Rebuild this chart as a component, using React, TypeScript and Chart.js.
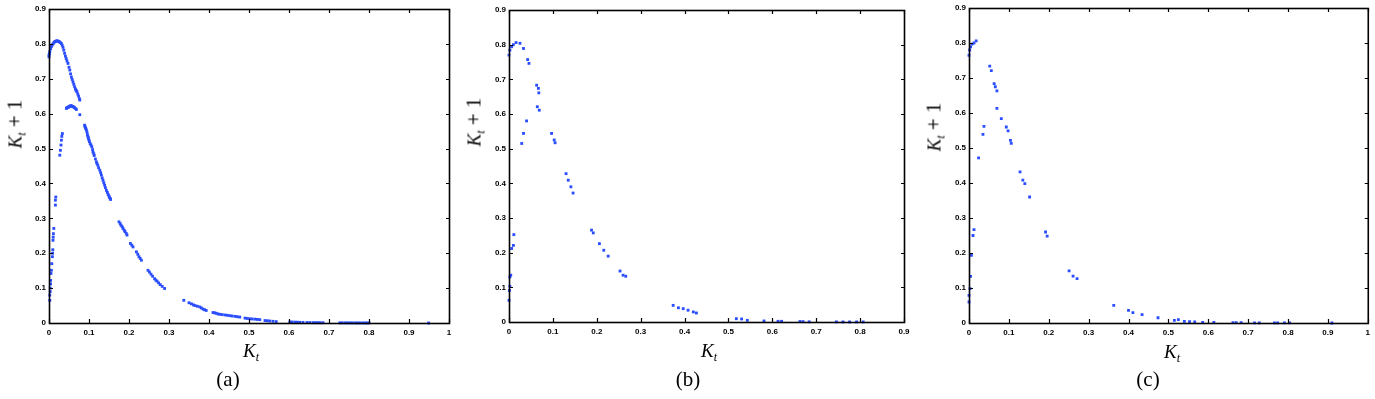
import React, { useEffect, useRef } from 'react';
import { Chart, registerables } from 'chart.js';
Chart.register(...registerables);

// ---------- data ----------
const xTicks10 = [0, 0.1, 0.2, 0.3, 0.4, 0.5, 0.6, 0.7, 0.8, 0.9, 1];
const xTicks09 = [0, 0.1, 0.2, 0.3, 0.4, 0.5, 0.6, 0.7, 0.8, 0.9];
const yTicks = [0, 0.1, 0.2, 0.3, 0.4, 0.5, 0.6, 0.7, 0.8, 0.9];
const captions = ['(a)', '(b)', '(c)'];

const xA = [
  0, 0, 0.001, 0.002, 0.004, 0.006, 0.008, 0.01, 0.012, 0.014, 0.016, 0.018, 0.02, 0.022, 0.024, 0.026, 0.028, 0.031, 0.033, 0.035, 0.037, 0.039, 0.041, 0.043, 0.045, 0.0475, 0.05, 0.052, 0.054, 0.056, 0.058, 0.06, 0.062, 0.064, 0.066, 0.067, 0.069, 0.07, 0.072, 0.074, 0.076, 0.077,
  0.0435, 0.045, 0.047, 0.049, 0.05, 0.052, 0.053, 0.055, 0.056, 0.058, 0.06, 0.062, 0.064, 0.066, 0.0685, 0.077,
  0.089, 0.09, 0.091, 0.092, 0.0935, 0.095, 0.096, 0.097, 0.098, 0.099, 0.1, 0.101, 0.103, 0.105, 0.107, 0.109, 0.11, 0.112, 0.113, 0.116, 0.1185, 0.12, 0.122, 0.124, 0.127, 0.129, 0.131, 0.133, 0.135, 0.137, 0.139, 0.141, 0.1435, 0.146, 0.148, 0.15, 0.151, 0.153, 0.154,
  0.175, 0.178, 0.18, 0.183, 0.185, 0.188, 0.19, 0.193, 0.195, 0.2035, 0.207, 0.21, 0.2185, 0.222, 0.225, 0.228, 0.231, 0.2475, 0.251, 0.255, 0.259, 0.264, 0.267, 0.27, 0.274, 0.278, 0.283, 0.289,
  0.337, 0.35, 0.356, 0.361, 0.365, 0.371, 0.377, 0.381, 0.385, 0.389, 0.393, 0.41, 0.414, 0.418, 0.422, 0.427, 0.433, 0.44, 0.446, 0.452, 0.458, 0.465, 0.471, 0.477, 0.49, 0.496, 0.502, 0.508, 0.515, 0.521, 0.527, 0.54, 0.546, 0.552, 0.56, 0.568,
  0.602, 0.608, 0.615, 0.621, 0.627, 0.635, 0.645, 0.652, 0.66, 0.666, 0.672, 0.678, 0.685, 0.727, 0.733, 0.74, 0.746, 0.752, 0.758, 0.765, 0.771, 0.777, 0.784, 0.79, 0.795, 0.8, 0.949,
  0.002, 0.002, 0.003, 0.003, 0.004, 0.004, 0.005, 0.006, 0.007, 0.0085, 0.009, 0.0095, 0.01, 0.0105, 0.011, 0.012, 0.016, 0.016, 0.017, 0.027, 0.0285, 0.03, 0.031, 0.032, 0.0335,
];
const yA = [
  0.763, 0.768, 0.772, 0.778, 0.786, 0.792, 0.797, 0.8, 0.803, 0.806, 0.807, 0.808, 0.809, 0.808, 0.807, 0.806, 0.804, 0.801, 0.796, 0.79, 0.782, 0.773, 0.765, 0.758, 0.751, 0.744, 0.733, 0.725, 0.714, 0.705, 0.698, 0.691, 0.684, 0.677, 0.671, 0.668, 0.665, 0.663, 0.656, 0.65, 0.643, 0.639,
  0.615, 0.617, 0.618, 0.619, 0.62, 0.621, 0.622, 0.623, 0.622, 0.621, 0.62, 0.619, 0.617, 0.615, 0.612, 0.597,
  0.567, 0.563, 0.56, 0.557, 0.553, 0.547, 0.54, 0.536, 0.532, 0.528, 0.524, 0.52, 0.514, 0.51, 0.505, 0.497, 0.49, 0.485, 0.48, 0.47, 0.462, 0.457, 0.452, 0.445, 0.438, 0.431, 0.424, 0.416, 0.409, 0.402, 0.395, 0.388, 0.38, 0.374, 0.368, 0.364, 0.36, 0.357, 0.354,
  0.29, 0.285, 0.28, 0.276, 0.271, 0.266, 0.262, 0.257, 0.252, 0.228, 0.223, 0.218, 0.204, 0.197, 0.19, 0.185, 0.18, 0.151, 0.146, 0.14, 0.134, 0.127, 0.123, 0.12, 0.115, 0.11, 0.105, 0.099,
  0.065, 0.058, 0.055, 0.052, 0.05, 0.048, 0.046, 0.043, 0.04, 0.038, 0.036, 0.03, 0.029, 0.028, 0.026, 0.025, 0.024, 0.023, 0.022, 0.021, 0.02, 0.019, 0.018, 0.017, 0.014, 0.013, 0.012, 0.0115, 0.011, 0.0103, 0.0096, 0.007, 0.0064, 0.0057, 0.0048, 0.004,
  0.003, 0.0028, 0.0025, 0.0022, 0.002, 0.0018, 0.0015, 0.0012, 0.001, 0.001, 0.001, 0.0009, 0.0008, 0.0005, 0.0005, 0.0005, 0.0004, 0.0004, 0.0004, 0.0003, 0.0003, 0.0003, 0.0002, 0.0002, 0.0002, 0.0002, 0,
  0.065, 0.08, 0.09, 0.1, 0.112, 0.122, 0.142, 0.151, 0.17, 0.19, 0.2, 0.21, 0.237, 0.246, 0.256, 0.271, 0.338, 0.352, 0.361, 0.481, 0.495, 0.51, 0.524, 0.535, 0.543,
];

const xB = [
  0, 0.002, 0.006, 0.01, 0.016, 0.025, 0.033, 0.0425, 0.0455,
  0.063, 0.067, 0.068, 0.0645, 0.069,
  0.097, 0.103, 0.105,
  0.13, 0.135, 0.141, 0.146,
  0.188, 0.192, 0.206, 0.216, 0.226,
  0.253, 0.26, 0.266,
  0.374, 0.386, 0.397, 0.408, 0.42, 0.427,
  0.518, 0.53, 0.543, 0.581, 0.613, 0.621, 0.663, 0.67, 0.684,
  0.746, 0.761, 0.776, 0.792, 0.807,
  0, 0.001, 0.002, 0.002, 0.004, 0.006, 0.01, 0.011,
  0.029, 0.033, 0.04,
];
const yB = [
  0.77, 0.784, 0.794, 0.8, 0.806, 0.804, 0.789, 0.757, 0.746,
  0.683, 0.674, 0.661, 0.621, 0.611,
  0.544, 0.525, 0.517,
  0.428, 0.409, 0.39, 0.372,
  0.265, 0.257, 0.226, 0.207, 0.19,
  0.147, 0.135, 0.132,
  0.048, 0.041, 0.0385, 0.034, 0.029, 0.026,
  0.0096, 0.0087, 0.0048, 0.003, 0.002, 0.002, 0.0015, 0.001, 0.0005,
  0.0003, 0.0002, 0.0002, 0.0002, 0.0002,
  0.0625, 0.091, 0.103, 0.13, 0.135, 0.212, 0.221, 0.252,
  0.515, 0.544, 0.58,
];

const xC = [
  0, 0.0017, 0.004, 0.0075, 0.0125, 0.018,
  0.052, 0.056, 0.063, 0.066, 0.07,
  0.07, 0.081,
  0.0935, 0.098, 0.104, 0.106,
  0.128, 0.135, 0.14, 0.152,
  0.192, 0.196,
  0.251, 0.261, 0.271,
  0.363, 0.4, 0.411, 0.434, 0.474,
  0.515, 0.525, 0.54, 0.553, 0.566, 0.586, 0.614,
  0.662, 0.67, 0.6825, 0.716, 0.728, 0.766, 0.774, 0.791, 0.804, 0.91,
  0, 0, 0.0025, 0.004, 0.006, 0.01, 0.0125, 0.024, 0.035, 0.0375,
];
const yC = [
  0.765, 0.78, 0.789, 0.797, 0.8, 0.806,
  0.734, 0.721, 0.684, 0.675, 0.663,
  0.613, 0.584,
  0.56, 0.549, 0.522, 0.513,
  0.432, 0.408, 0.398, 0.36,
  0.26, 0.248,
  0.149, 0.134, 0.127,
  0.0505, 0.036, 0.0296, 0.024, 0.015,
  0.0076, 0.0095, 0.0048, 0.004, 0.003, 0.002, 0.002,
  0.001, 0.001, 0.001, 0.0005, 0.0005, 0.0003, 0.0003, 0.0003, 0.0003, 0,
  0.06, 0.079, 0.098, 0.133, 0.193, 0.25, 0.267, 0.472, 0.539, 0.562,
];

const BLUE = '#2a4dff';

// ---------- plugin: MATLAB-style box with inward ticks ----------
const boxTicks = {
  id: 'boxTicks',
  afterDraw(chart: any) {
    const { ctx, chartArea: a, scales } = chart;
    ctx.save();
    ctx.strokeStyle = '#000';
    ctx.lineWidth = 1.6;
    ctx.strokeRect(a.left + 0.5, a.top + 0.5, a.right - a.left, a.bottom - a.top);
    const L = 4;
    ctx.lineWidth = 1.2;
    ctx.beginPath();
    for (const t of scales.x.ticks) {
      const p = Math.round(scales.x.getPixelForValue(t.value)) + 0.5;
      ctx.moveTo(p, a.bottom);
      ctx.lineTo(p, a.bottom - L);
      ctx.moveTo(p, a.top);
      ctx.lineTo(p, a.top + L);
    }
    for (const t of scales.y.ticks) {
      const p = Math.round(scales.y.getPixelForValue(t.value)) + 0.5;
      ctx.moveTo(a.left, p);
      ctx.lineTo(a.left + L, p);
      ctx.moveTo(a.right + 1, p);
      ctx.lineTo(a.right + 1 - L, p);
    }
    ctx.stroke();
    ctx.restore();
  },
};

type PanelProps = {
  xs: number[];
  ys: number[];
  xMax: number;
  xTicks: number[];
  width: number;
  leftW: number;
  top: number;
  right: number;
  bottomH: number;
};

const tickFont = { family: 'Liberation Sans, Arial, sans-serif', size: 8, weight: 'bold' as const };
const fmt = (v: any) => String(Math.round(Number(v) * 10) / 10);

function Panel(p: PanelProps) {
  const ref = useRef<HTMLCanvasElement>(null);
  useEffect(() => {
    if (!ref.current) return;
    const chart = new Chart(ref.current, {
      type: 'scatter',
      data: {
        datasets: [
          {
            data: p.xs.map((x, i) => ({ x, y: p.ys[i] })),
            pointStyle: 'rect',
            pointRadius: 2,
            borderWidth: 0,
            backgroundColor: BLUE,
            clip: 4,
          } as any,
        ],
      },
      options: {
        responsive: false,
        animation: false,
        devicePixelRatio: 1,
        layout: { padding: { top: p.top, right: p.right, left: 0, bottom: 0 } },
        plugins: { legend: { display: false }, tooltip: { enabled: false } },
        scales: {
          x: {
            type: 'linear',
            min: 0,
            max: p.xMax,
            afterBuildTicks: (s: any) => {
              s.ticks = p.xTicks.map((v) => ({ value: v }));
            },
            afterFit: (s: any) => {
              s.height = p.bottomH;
            },
            grid: { display: false, drawTicks: false },
            border: { display: false },
            ticks: { padding: 5, font: tickFont, color: '#000', maxRotation: 0, autoSkip: false, callback: fmt },
          },
          y: {
            type: 'linear',
            min: 0,
            max: 0.9,
            afterBuildTicks: (s: any) => {
              s.ticks = yTicks.map((v) => ({ value: v }));
            },
            afterFit: (s: any) => {
              s.width = p.leftW;
            },
            grid: { display: false, drawTicks: false },
            border: { display: false },
            ticks: { padding: 3, font: tickFont, color: '#000', autoSkip: false, callback: fmt },
          },
        },
      } as any,
      plugins: [boxTicks],
    });
    return () => chart.destroy();
  }, []);
  return <canvas ref={ref} width={p.width} height={399} style={{ width: p.width, height: 399, display: 'block' }} />;
}

const serif = 'Liberation Serif, Times New Roman, serif';

function XTitle({ cx, cy }: { cx: number; cy: number }) {
  return (
    <div style={{ position: 'absolute', left: cx, top: cy, transform: 'translate(-50%,-50%)', fontFamily: serif, fontSize: 19, whiteSpace: 'nowrap', lineHeight: 1 }}>
      <i>K</i>
      <i style={{ fontSize: 12, position: 'relative', top: 4 }}>t</i>
    </div>
  );
}

function YTitle({ cx, cy }: { cx: number; cy: number }) {
  return (
    <div style={{ position: 'absolute', left: cx, top: cy, transform: 'translate(-50%,-50%) rotate(-90deg)', fontFamily: serif, fontSize: 19, whiteSpace: 'nowrap', lineHeight: 1 }}>
      <i>K</i>
      <i style={{ fontSize: 12, position: 'relative', top: 4 }}>t</i>
      <span style={{ fontSize: 21 }}> + 1</span>
    </div>
  );
}

function Caption({ cx, cy, text }: { cx: number; cy: number; text: string }) {
  return (
    <div style={{ position: 'absolute', left: cx, top: cy, transform: 'translate(-50%,-50%)', fontFamily: serif, fontSize: 21, whiteSpace: 'nowrap', lineHeight: 1 }}>
      {text}
    </div>
  );
}

export default function App() {
  return (
    <div style={{ position: 'absolute', left: 0, top: 0, width: 1375, height: 399, background: '#fff', overflow: 'hidden' }}>
      <div style={{ position: 'absolute', left: 0, top: 0 }}>
        <Panel xs={xA} ys={yA} xMax={1} xTicks={xTicks10} width={460} leftW={49} top={9} right={11} bottomH={76} />
      </div>
      <div style={{ position: 'absolute', left: 460, top: 0 }}>
        <Panel xs={xB} ys={yB} xMax={0.9} xTicks={xTicks09} width={455} leftW={49} top={10} right={11} bottomH={77} />
      </div>
      <div style={{ position: 'absolute', left: 915, top: 0 }}>
        <Panel xs={xC} ys={yC} xMax={1} xTicks={xTicks10} width={460} leftW={54} top={8} right={7} bottomH={76} />
      </div>
      <XTitle cx={251} cy={350} />
      <XTitle cx={709} cy={350} />
      <XTitle cx={1172} cy={351} />
      <YTitle cx={15} cy={124} />
      <YTitle cx={474} cy={122} />
      <YTitle cx={934} cy={127} />
      <Caption cx={228} cy={379} text={captions[0]} />
      <Caption cx={688} cy={379} text={captions[1]} />
      <Caption cx={1148} cy={379} text={captions[2]} />
    </div>
  );
}
